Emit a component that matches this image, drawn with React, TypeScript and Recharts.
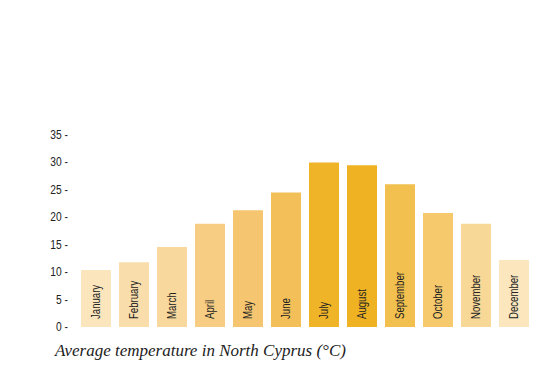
import { BarChart, Bar, XAxis, YAxis, LabelList, Cell } from 'recharts'

const months = [
  'January', 'February', 'March', 'April', 'May', 'June',
  'July', 'August', 'September', 'October', 'November', 'December',
]

const temps = [10.4, 11.8, 14.6, 18.8, 21.3, 24.5, 30.0, 29.5, 26.0, 20.8, 18.8, 12.2]

const yTicks = [0, 5, 10, 15, 20, 25, 30, 35]

const barColors = [
  '#FBE5BD', '#F9DEAB', '#F8D89C', '#F6CD83', '#F5C66F', '#F3BF59',
  '#F0B428', '#EFB222', '#F2C04E', '#F5C96C', '#F8D897', '#FBE6BE',
]

const data = months.map((m, i) => ({ month: m, temp: temps[i] }))

// no narrow face installed, so squeeze Liberation Sans horizontally
const sans = "'Liberation Sans', Arial, sans-serif"

const YTick = (props: any) => {
  const { x, y, payload } = props
  return (
    <text
      transform={`translate(${x - 1} ${y + 4}) scale(0.82 1)`}
      textAnchor="end"
      fontFamily={sans}
      fontSize={12.5}
      fill="#222"
    >
      {`${payload.value} -`}
    </text>
  )
}

const MonthLabel = (props: any) => {
  const { x, y, width, height, value } = props
  const cx = x + width / 2 + 4
  const cy = y + height - 8
  return (
    <text
      transform={`translate(${cx} ${cy}) rotate(-90) scale(0.8 1)`}
      textAnchor="start"
      fontFamily={sans}
      fontSize={12}
      fill="#222"
    >
      {value}
    </text>
  )
}

export default function App() {
  return (
    <div style={{ position: 'absolute', left: 0, top: 0, width: 555, height: 385, background: '#fff' }}>
      <BarChart
        width={555}
        height={385}
        data={data}
        margin={{ top: 135, right: 22, left: 40, bottom: 58 }}
        barSize={30}
      >
        <XAxis dataKey="month" hide />
        <YAxis
          domain={[0, 35]}
          ticks={yTicks}
          width={37}
          axisLine={false}
          tickLine={false}
          tick={<YTick />}
        />
        <Bar dataKey="temp" isAnimationActive={false}>
          {data.map((_, i) => (
            <Cell key={i} fill={barColors[i]} />
          ))}
          <LabelList dataKey="month" content={<MonthLabel />} />
        </Bar>
      </BarChart>
      <div
        style={{
          position: 'absolute',
          left: 55,
          top: 341,
          fontFamily: "'Liberation Serif', 'DejaVu Serif', serif",
          fontStyle: 'italic',
          fontSize: 17,
          color: '#222',
          whiteSpace: 'nowrap',
        }}
      >
        Average temperature in North Cyprus (°C)
      </div>
    </div>
  )
}
